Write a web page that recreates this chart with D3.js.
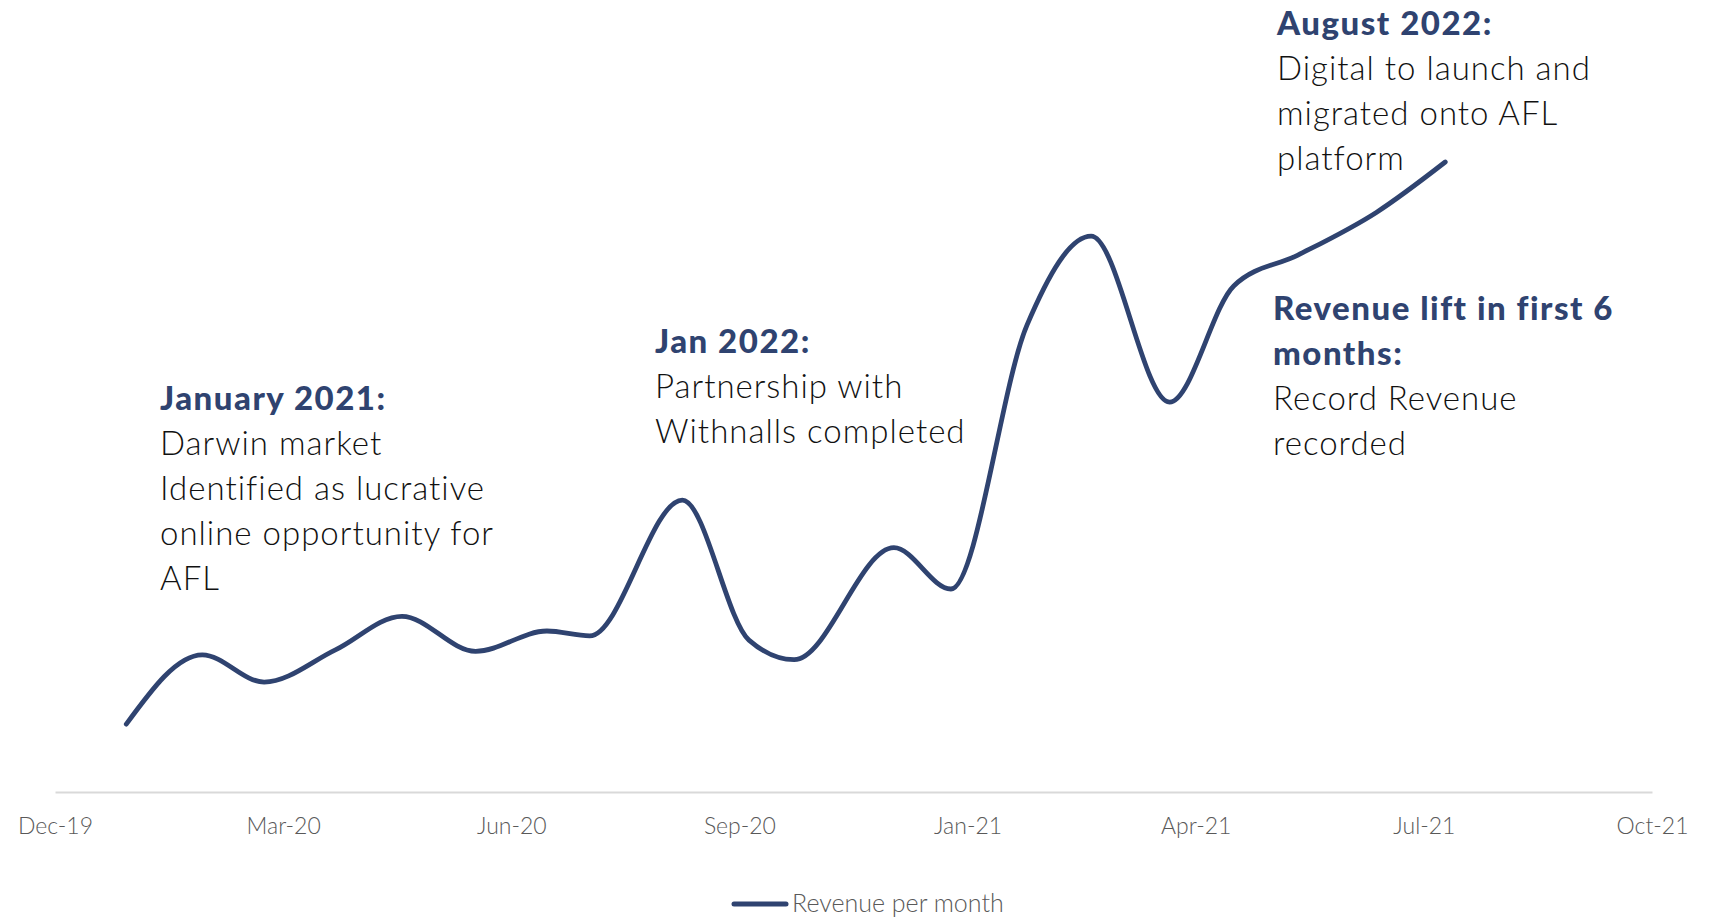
<!DOCTYPE html>
<html>
<head>
<meta charset="utf-8">
<script src="https://cdn.jsdelivr.net/npm/d3@7"></script>
<style>
  body { margin: 0; background: #fff; }
  svg { display: block; font-family: Lato, "Source Sans Pro", sans-serif; }
</style>
</head>
<body>
<div id="chart"></div>
<script>
// revenue readings (index)
const dates = ['2020-01-14', '2020-02-15', '2020-03-12', '2020-04-11', '2020-05-09',
    '2020-06-09', '2020-07-09', '2020-07-27', '2020-09-04', '2020-10-02',
    '2020-10-21', '2020-12-02', '2020-12-26', '2021-01-27', '2021-02-23',
    '2021-03-28', '2021-04-24', '2021-05-21', '2021-06-23', '2021-07-22'];
const revenue = [9.7, 19.6, 15.7, 20.3, 25.1, 20.1, 23.0, 22.3, 41.7, 21.7,
    18.9, 34.9, 29.0, 66.7, 79.4, 55.7, 72.3, 76.7, 82.8, 90.0];

const tickDates = ['2019-12-15', '2020-03-20', '2020-06-24', '2020-09-28',
    '2021-01-02', '2021-04-08', '2021-07-13', '2021-10-17'];
const tickLabels = ['Dec-19', 'Mar-20', 'Jun-20', 'Sep-20', 'Jan-21', 'Apr-21', 'Jul-21', 'Oct-21'];

const noteTitles = ['January 2021:', 'Jan 2022:', 'August 2022:', 'Revenue lift in first 6\nmonths:'];
const noteBodies = [
    'Darwin market\nIdentified as lucrative\nonline opportunity for\nAFL',
    'Partnership with\nWithnalls completed',
    'Digital to launch and\nmigrated onto AFL\nplatform',
    'Record Revenue\nrecorded'
];
const seriesName = 'Revenue per month';

const config = {
    width: 1711,
    height: 917,
    x0: 55, x1: 1652,
    yBase: 792, yTop: 92,
    navy: '#2f4370',
    grey: '#595959',
    lineHeight: 45,
    notePos: [[160, 410], [655, 353], [1277, 35], [1273, 320]]
};

const parse = d3.timeParse('%Y-%m-%d');
const data = dates.map((d, i) => ({ date: parse(d), value: revenue[i] }));
const ticks = tickDates.map(parse);

const svg = d3.select('#chart').append('svg')
    .attr('width', config.width)
    .attr('height', config.height);

const x = d3.scaleTime()
    .domain([ticks[0], ticks[ticks.length - 1]])
    .range([config.x0, config.x1]);

const y = d3.scaleLinear()
    .domain([0, 100])
    .range([config.yBase, config.yTop]);

// x axis: light baseline, labels below, no ticks
const xAxis = d3.axisBottom(x)
    .tickValues(ticks)
    .tickFormat((d, i) => tickLabels[i])
    .tickSize(0)
    .tickPadding(26);

const gx = svg.append('g')
    .attr('transform', `translate(0,${config.yBase})`)
    .call(xAxis);
gx.select('.domain').attr('stroke', '#d9d9d9').attr('stroke-width', 2);
gx.selectAll('text')
    .attr('fill', config.grey)
    .style('font-size', '23px')
    .style('font-weight', 300)
    .style('font-family', 'Lato, sans-serif');

const line = d3.line()
    .x(d => x(d.date))
    .y(d => y(d.value))
    .curve(d3.curveMonotoneX);

svg.append('path')
    .datum(data)
    .attr('fill', 'none')
    .attr('stroke', config.navy)
    .attr('stroke-width', 4.8)
    .attr('stroke-linecap', 'round')
    .attr('stroke-linejoin', 'round')
    .attr('d', line);

// annotations
noteTitles.forEach((title, i) => {
    let [nx, ny] = config.notePos[i];
    let rows = title.split('\n').map(t => ({ t, bold: true }))
        .concat(noteBodies[i].split('\n').map(t => ({ t, bold: false })));
    let txt = svg.append('text')
        .attr('x', nx)
        .attr('y', ny)
        .style('font-size', '33px');
    txt.selectAll('tspan')
        .data(rows)
        .join('tspan')
        .attr('x', nx)
        .attr('dy', (d, j) => j === 0 ? 0 : config.lineHeight)
        .attr('fill', d => d.bold ? config.navy : '#111')
        .style('font-weight', d => d.bold ? 900 : 300)
        .style('letter-spacing', d => d.bold ? '1.5px' : '1px')
        .text(d => d.t);
});

// legend
const lg = svg.append('g').attr('transform', 'translate(734,904)');
lg.append('line')
    .attr('x1', 0).attr('x2', 52)
    .attr('stroke', config.navy)
    .attr('stroke-width', 5)
    .attr('stroke-linecap', 'round');
lg.append('text')
    .attr('x', 58)
    .attr('y', 8)
    .attr('fill', config.grey)
    .style('font-size', '25px')
    .style('font-weight', 300)
    .text(seriesName);
</script>
</body>
</html>
